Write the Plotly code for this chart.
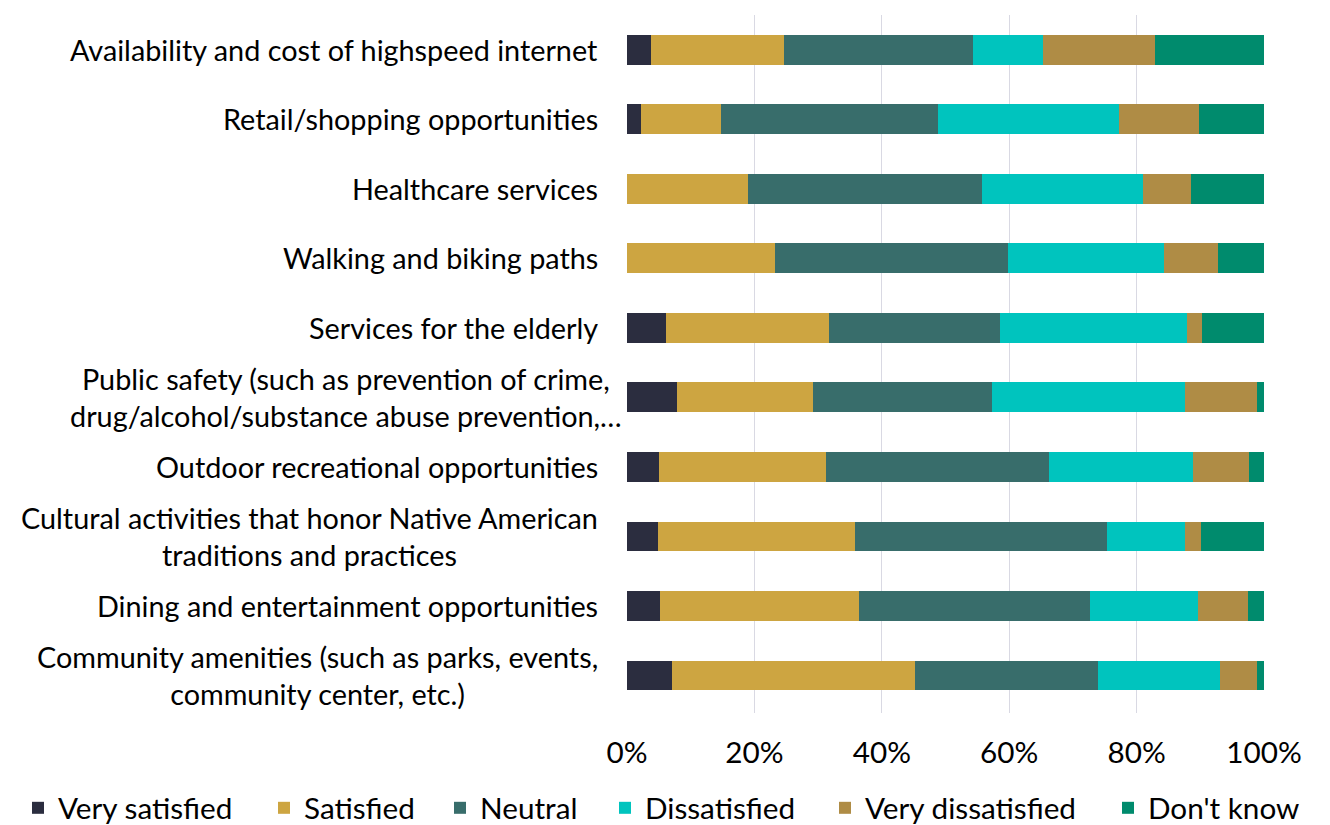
import plotly.graph_objects as go

categories = [
    "Availability and cost of highspeed internet",
    "Retail/shopping opportunities",
    "Healthcare services",
    "Walking and biking paths",
    "Services for the elderly",
    "Public safety (such as prevention of crime,<br>drug/alcohol/substance abuse prevention,…",
    "Outdoor recreational opportunities",
    "Cultural activities that honor Native American<br>traditions and practices",
    "Dining and entertainment opportunities",
    "Community amenities (such as parks, events,<br>community center, etc.)",
]

very_satisfied = [3.8, 2.2, 0.0, 0.0, 6.1, 7.8, 5.0, 4.9, 5.2, 7.1]
satisfied = [20.8, 12.6, 19.0, 23.2, 25.6, 21.4, 26.2, 30.9, 31.2, 38.1]
neutral = [29.7, 34.0, 36.7, 36.6, 26.9, 28.1, 35.0, 39.6, 36.3, 28.7]
dissatisfied = [11.0, 28.4, 25.3, 24.5, 29.3, 30.3, 22.6, 12.2, 16.9, 19.2]
very_dissatisfied = [17.6, 12.6, 7.5, 8.5, 2.4, 11.3, 8.8, 2.5, 7.9, 5.8]
dont_know = [17.1, 10.2, 11.5, 7.2, 9.7, 1.1, 2.4, 9.9, 2.5, 1.1]

series = [
    ("Very satisfied", very_satisfied, "#2B2D3F"),
    ("Satisfied", satisfied, "#CDA541"),
    ("Neutral", neutral, "#386D6B"),
    ("Dissatisfied", dissatisfied, "#00C4BE"),
    ("Very dissatisfied", very_dissatisfied, "#AF8C45"),
    ("Don't know", dont_know, "#008B6D"),
]

# left edge (px, figure coords) of each legend entry
legend_left_px = [10, 256, 432, 597, 817, 1100]

FONT = "Lato"
FS = 29.7
LABEL_FS = 28.8
W, H = 1330, 825
fig = go.Figure()
legend_layouts = {}
for i, (name, vals, color) in enumerate(series):
    key = "legend" if i == 0 else f"legend{i + 1}"
    fig.add_trace(go.Bar(
        y=categories, x=vals, name=name, orientation="h",
        marker=dict(color=color, line=dict(width=0)),
        width=0.43, legend=key,
    ))
    legend_layouts[key] = dict(
        orientation="h", xref="container", yref="container",
        x=legend_left_px[i] / W, xanchor="left",
        y=25 / H, yanchor="middle",
        font=dict(family=FONT, size=FS, color="#000000"),
        bgcolor="rgba(0,0,0,0)", borderwidth=0,
    )

label_shift = {5: -3}
for i, c in enumerate(categories):
    fig.add_annotation(
        x=0, xref="paper", y=c, yref="y", text=c, showarrow=False,
        xanchor="right", yanchor="middle", align="center",
        xshift=label_shift.get(i, -27),
        font=dict(family=FONT, size=LABEL_FS, color="#000000"),
    )

fig.update_layout(
    barmode="stack",
    width=W, height=H,
    margin=dict(l=619, r=74, t=7, b=120, autoexpand=False),
    plot_bgcolor="white", paper_bgcolor="white",
    font=dict(family=FONT, size=FS, color="#000000"),
    showlegend=True,
    xaxis=dict(
        range=[0, 100], tickvals=[0, 20, 40, 60, 80, 100],
        ticktext=["0%", "20%", "40%", "60%", "80%", "100%"],
        showgrid=True, gridcolor="#D9D9E3", gridwidth=1,
        zeroline=False, showline=False, ticks="",
        ticklabelstandoff=19,
        tickfont=dict(family=FONT, size=FS, color="#000000"),
    ),
    yaxis=dict(
        autorange="reversed", showticklabels=False, showgrid=False,
        zeroline=False, showline=False, ticks="",
    ),
    **legend_layouts,
)

fig.write_html("out.html")
